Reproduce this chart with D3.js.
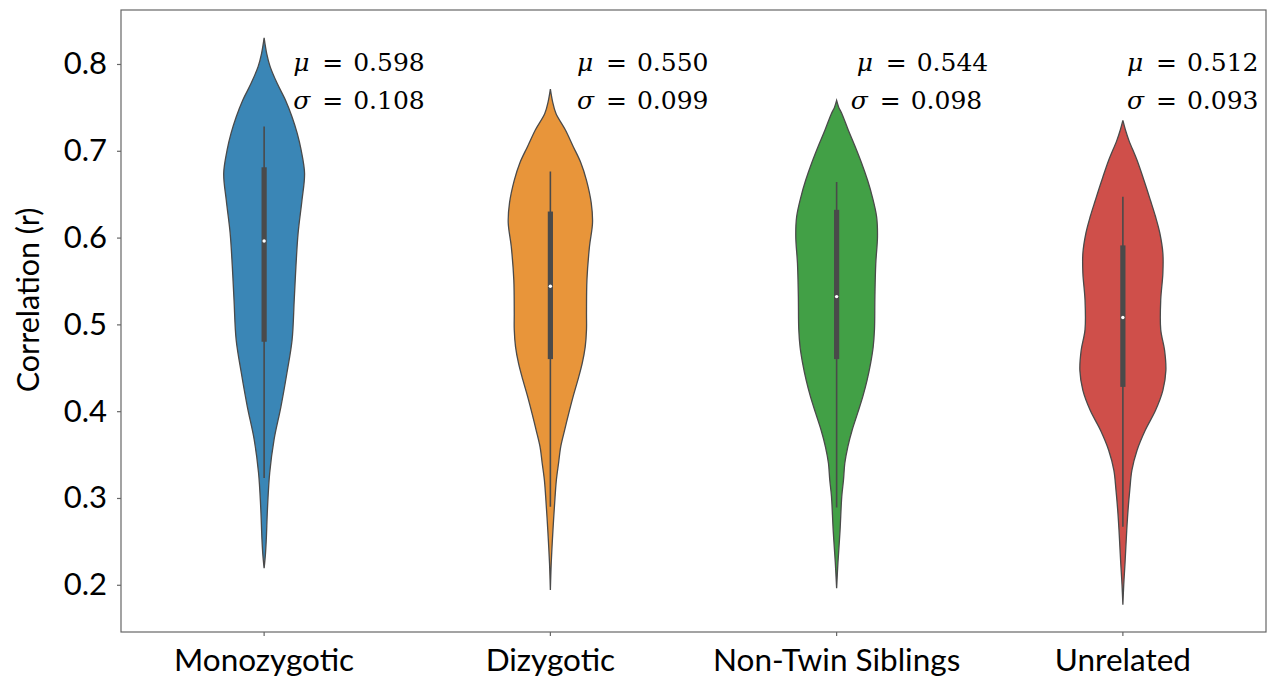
<!DOCTYPE html>
<html>
<head>
<meta charset="utf-8">
<script src="https://cdn.jsdelivr.net/npm/d3@7"></script>
<style>
html,body{margin:0;padding:0;background:#fff;}
svg{display:block;}
</style>
</head>
<body>
<svg id="chart" width="1277" height="681"></svg>
<script>
// ---------- data ----------
const categories = ["Monozygotic", "Dizygotic", "Non-Twin Siblings", "Unrelated"];
const means = [0.598, 0.550, 0.544, 0.512];
const sds = [0.108, 0.099, 0.098, 0.093];
const colors = ["#3a86b6", "#e8953a", "#42a046", "#cf4f4a"];
const yTicks = [0.2, 0.3, 0.4, 0.5, 0.6, 0.7, 0.8];

// box stats: [whiskerLow, Q1, median, Q3, whiskerHigh]
const monoBox = [0.323, 0.480, 0.596, 0.681, 0.728];
const dizBox = [0.290, 0.460, 0.544, 0.630, 0.676];
const sibBox = [0.289, 0.460, 0.532, 0.632, 0.664];
const unrBox = [0.267, 0.428, 0.508, 0.591, 0.647];

// violin profiles: [r, relative density]
const monoKde = [[0.219,0],[0.235,0.03],[0.252,0.05],[0.29,0.08],[0.329,0.13],[0.367,0.23],[0.405,0.39],[0.444,0.53],[0.482,0.65],[0.528,0.70],[0.567,0.74],[0.605,0.79],[0.643,0.88],[0.674,0.94],[0.701,0.86],[0.72,0.77],[0.739,0.65],[0.758,0.50],[0.778,0.30],[0.797,0.14],[0.812,0.06],[0.83,0]];
const dizKde = [[0.194,0],[0.225,0.02],[0.263,0.06],[0.302,0.11],[0.321,0.14],[0.34,0.19],[0.359,0.24],[0.378,0.33],[0.398,0.43],[0.417,0.53],[0.436,0.64],[0.455,0.74],[0.474,0.81],[0.494,0.84],[0.513,0.84],[0.551,0.85],[0.59,0.91],[0.617,0.98],[0.64,0.95],[0.666,0.84],[0.686,0.71],[0.705,0.53],[0.724,0.35],[0.743,0.13],[0.757,0.05],[0.771,0]];
const sibKde = [[0.196,0],[0.225,0.03],[0.263,0.08],[0.302,0.12],[0.321,0.16],[0.34,0.19],[0.359,0.26],[0.378,0.36],[0.398,0.49],[0.417,0.61],[0.436,0.71],[0.455,0.79],[0.474,0.85],[0.494,0.88],[0.532,0.89],[0.57,0.91],[0.601,0.95],[0.624,0.93],[0.647,0.83],[0.666,0.72],[0.686,0.58],[0.705,0.43],[0.724,0.27],[0.743,0.12],[0.750,0.05],[0.758,0]];
const unrKde = [[0.177,0],[0.2,0.02],[0.225,0.05],[0.263,0.09],[0.286,0.12],[0.309,0.16],[0.332,0.21],[0.355,0.33],[0.378,0.52],[0.401,0.76],[0.424,0.93],[0.447,1.0],[0.47,0.97],[0.494,0.88],[0.528,0.88],[0.559,0.93],[0.582,0.93],[0.605,0.86],[0.624,0.76],[0.643,0.64],[0.666,0.49],[0.689,0.33],[0.712,0.14],[0.724,0.06],[0.735,0]];

const kdes = [monoKde, dizKde, sibKde, unrKde];
const boxes = [monoBox, dizBox, sibBox, unrBox];

// ---------- layout ----------
const M = {left: 121, top: 10, right: 1266, bottom: 632};
const svg = d3.select("#chart");
const sans = "Lato, 'Open Sans', sans-serif";

const x = d3.scaleBand().domain(categories).range([M.left, M.right]).padding(0);
const y = d3.scaleLinear().domain([0.1456, 0.8622]).range([M.bottom, M.top]);
const w = d3.scaleLinear().domain([0, 1]).range([0, 43]);

// frame
svg.append("rect")
  .attr("x", M.left).attr("y", M.top)
  .attr("width", M.right - M.left).attr("height", M.bottom - M.top)
  .attr("fill", "#fff").attr("stroke", "#666").attr("stroke-width", 1.2);

// axes
const yAxis = svg.append("g").attr("transform", `translate(${M.left},0)`)
  .call(d3.axisLeft(y).tickValues(yTicks).tickFormat(d3.format(".1f")).tickSize(4).tickPadding(10));
yAxis.select(".domain").remove();
yAxis.selectAll(".tick line").attr("stroke", "#666").attr("stroke-width", 1.2);
yAxis.selectAll(".tick text")
  .attr("font-family", sans).attr("font-size", 31).attr("fill", "#000");

const xAxis = svg.append("g").attr("transform", `translate(0,${M.bottom})`)
  .call(d3.axisBottom(x).tickSize(4).tickPadding(13));
xAxis.select(".domain").remove();
xAxis.selectAll(".tick line").attr("stroke", "#666").attr("stroke-width", 1.2);
xAxis.selectAll(".tick text")
  .attr("font-family", sans).attr("font-size", 31.5).attr("fill", "#000");

// y title
svg.append("text")
  .attr("transform", `translate(27,300) rotate(-90)`)
  .attr("text-anchor", "middle").attr("dominant-baseline", "central")
  .attr("font-family", sans).attr("font-size", 30.5).attr("fill", "#000")
  .text("Correlation (r)");

// violins
const edge = "#4a4a4a";
categories.forEach((c, i) => {
  const cx = x(c) + x.bandwidth() / 2;
  const area = d3.area()
    .x0(d => cx - w(d[1]))
    .x1(d => cx + w(d[1]))
    .y(d => y(d[0]))
    .curve(d3.curveCatmullRom.alpha(0.5));
  svg.append("path")
    .datum(kdes[i])
    .attr("d", area)
    .attr("fill", colors[i])
    .attr("stroke", edge)
    .attr("stroke-width", 1.3);

  const b = boxes[i];
  svg.append("line")
    .attr("x1", cx).attr("x2", cx)
    .attr("y1", y(b[0])).attr("y2", y(b[4]))
    .attr("stroke", edge).attr("stroke-width", 1.6);
  svg.append("rect")
    .attr("x", cx - 2.6).attr("width", 5.2)
    .attr("y", y(b[3])).attr("height", y(b[1]) - y(b[3]))
    .attr("fill", edge);
  svg.append("circle")
    .attr("cx", cx).attr("cy", y(b[2])).attr("r", 1.7)
    .attr("fill", "#fff");
});

// annotations
const noteOffsetMu = [29, 26.5, 20, 4];
const noteOffsetSig = [29, 26.5, 14, 4];
const serif = "'DejaVu Serif', 'Liberation Serif', serif";
function note(x0, baseline, sym, val) {
  const g = svg.append("g").attr("font-family", serif).attr("font-size", 25).attr("fill", "#000");
  g.append("text").attr("x", x0).attr("y", baseline).attr("font-style", "italic").text(sym);
  g.append("text").attr("x", x0 + 29).attr("y", baseline).text("=");
  g.append("text").attr("x", x0 + 60).attr("y", baseline).text(val);
}
categories.forEach((c, i) => {
  const cx = x(c) + x.bandwidth() / 2;
  note(cx + noteOffsetMu[i], 71, "μ", d3.format(".3f")(means[i]));
  note(cx + noteOffsetSig[i], 109, "σ", d3.format(".3f")(sds[i]));
});
</script>
</body>
</html>
